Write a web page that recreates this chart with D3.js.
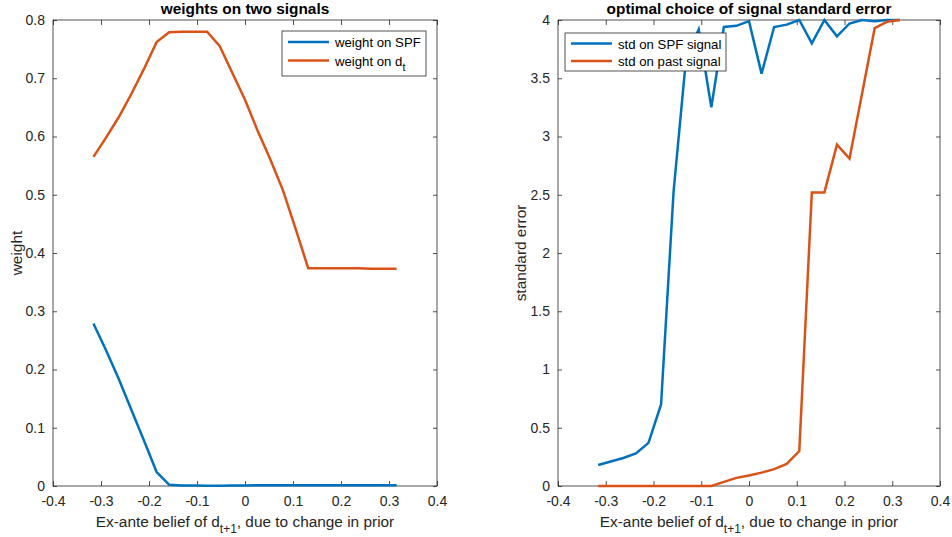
<!DOCTYPE html>
<html>
<head>
<meta charset="utf-8">
<script src="https://cdn.jsdelivr.net/npm/d3@7"></script>
<style>
  html, body { margin: 0; padding: 0; background: #fff; }
  svg { display: block; font-family: "Liberation Sans", Arial, Helvetica, sans-serif; }
</style>
</head>
<body>
<svg id="chart" width="952" height="537"></svg>
<script>
// ---------------- data ----------------
const xValues = [-0.3158, -0.2895, -0.2632, -0.2368, -0.2105, -0.1842, -0.1579, -0.1316, -0.1053, -0.0789, -0.0526, -0.0263, 0, 0.0263, 0.0526, 0.0789, 0.1053, 0.1316, 0.1579, 0.1842, 0.2105, 0.2368, 0.2632, 0.2895, 0.3158];

const weightSPF = [0.279, 0.233, 0.184, 0.131, 0.078, 0.024, 0.002, 0.001, 0.001, 0.0005, 0.0005, 0.0008, 0.001, 0.0012, 0.0012, 0.0012, 0.0013, 0.0013, 0.0013, 0.0013, 0.0013, 0.0013, 0.0013, 0.0013, 0.0013];
const weightD = [0.565, 0.598, 0.633, 0.673, 0.716, 0.762, 0.779, 0.780, 0.780, 0.780, 0.755, 0.709, 0.663, 0.610, 0.561, 0.508, 0.442, 0.374, 0.374, 0.374, 0.374, 0.374, 0.373, 0.373, 0.373];

const stdSPF = [0.18, 0.21, 0.24, 0.28, 0.37, 0.70, 2.53, 3.68, 3.92, 3.25, 3.94, 3.95, 3.99, 3.54, 3.94, 3.96, 4.0, 3.80, 4.0, 3.86, 3.97, 4.0, 3.99, 4.0, 4.0];
const stdPast = [0, 0, 0, 0, 0, 0, 0, 0, 0, 0, 0.035, 0.07, 0.09, 0.115, 0.145, 0.19, 0.30, 2.52, 2.52, 2.93, 2.81, 3.37, 3.93, 3.985, 4.0];

const xTicks = [-0.4, -0.3, -0.2, -0.1, 0, 0.1, 0.2, 0.3, 0.4];
const xTickLabels = ["-0.4", "-0.3", "-0.2", "-0.1", "0", "0.1", "0.2", "0.3", "0.4"];
const yTicksLeft = [0, 0.1, 0.2, 0.3, 0.4, 0.5, 0.6, 0.7, 0.8];
const yTickLabelsLeft = ["0", "0.1", "0.2", "0.3", "0.4", "0.5", "0.6", "0.7", "0.8"];
const yTicksRight = [0, 0.5, 1, 1.5, 2, 2.5, 3, 3.5, 4];
const yTickLabelsRight = ["0", "0.5", "1", "1.5", "2", "2.5", "3", "3.5", "4"];

const BLUE = "#0072BD";
const RED = "#D95319";
const AX = "#262626";
const FONT = '"Liberation Sans", Arial, Helvetica, sans-serif';

const svg = d3.select("#chart");

function panel(opts) {
  const { x0, x1, y0, y1, yDomain, yTicks, yLabels, title, ylabel, ylabelX, series, legend } = opts;
  const x = d3.scaleLinear().domain([-0.4, 0.4]).range([x0, x1]);
  const y = d3.scaleLinear().domain(yDomain).range([y1, y0]);
  const g = svg.append("g");

  g.append("rect").attr("x", x0).attr("y", y0).attr("width", x1 - x0).attr("height", y1 - y0)
    .attr("fill", "none").attr("stroke", AX).attr("stroke-width", 0.8);

  const fmtX = (d) => xTickLabels[xTicks.indexOf(d)];
  const fmtY = (d) => yLabels[yTicks.indexOf(d)];

  const bottom = g.append("g").attr("transform", `translate(0,${y1})`)
    .call(d3.axisBottom(x).tickValues(xTicks).tickFormat(fmtX).tickSizeInner(-5).tickSizeOuter(0).tickPadding(10));
  const top = g.append("g").attr("transform", `translate(0,${y0})`)
    .call(d3.axisTop(x).tickValues(xTicks).tickFormat("").tickSizeInner(-5).tickSizeOuter(0));
  const left = g.append("g").attr("transform", `translate(${x0},0)`)
    .call(d3.axisLeft(y).tickValues(yTicks).tickFormat(fmtY).tickSizeInner(-4).tickSizeOuter(0).tickPadding(8));
  const right = g.append("g").attr("transform", `translate(${x1},0)`)
    .call(d3.axisRight(y).tickValues(yTicks).tickFormat("").tickSizeInner(-4).tickSizeOuter(0));

  [bottom, top, left, right].forEach(a => {
    a.select(".domain").remove();
    a.selectAll(".tick line").attr("stroke", AX).attr("stroke-width", 0.8);
    a.selectAll("text").attr("fill", AX).style("font-size", "14px").style("font-family", FONT);
  });

  g.append("text").attr("x", (x0 + x1) / 2).attr("y", 14).attr("text-anchor", "middle")
    .style("font-size", "15.4px").style("font-weight", "bold").attr("fill", "#000").text(title);

  const xl = g.append("text").attr("x", (x0 + x1) / 2).attr("y", 527).attr("text-anchor", "middle")
    .style("font-size", "15.4px").attr("fill", AX);
  xl.append("tspan").text("Ex-ante belief of d");
  xl.append("tspan").attr("dy", 6).style("font-size", "12px").text("t+1");
  xl.append("tspan").attr("dy", -6).text(", due to change in prior");

  g.append("text").attr("transform", `translate(${ylabelX},${(y0 + y1) / 2}) rotate(-90)`)
    .attr("text-anchor", "middle").style("font-size", "15.4px").attr("fill", AX).text(ylabel);

  const clipId = "clip" + Math.round(x0);
  svg.append("clipPath").attr("id", clipId).append("rect")
    .attr("x", x0 - 2).attr("y", y0 - 2).attr("width", x1 - x0 + 4).attr("height", y1 - y0 + 4);
  series.forEach(s => {
    const line = d3.line().x((d, i) => x(xValues[i])).y(d => y(d));
    g.append("path").datum(s.values).attr("d", line).attr("fill", "none")
      .attr("stroke", s.color).attr("stroke-width", 2.5).attr("stroke-linejoin", "miter")
      .attr("clip-path", `url(#${clipId})`);
  });

  const lg = g.append("g");
  lg.append("rect").attr("x", legend.x).attr("y", legend.y).attr("width", legend.w).attr("height", legend.h)
    .attr("fill", "#fff").attr("stroke", AX).attr("stroke-width", 0.8);
  series.forEach((s, i) => {
    const ry = legend.y + legend.r0 + i * legend.gap;
    lg.append("line").attr("x1", legend.x + 6).attr("x2", legend.x + 47)
      .attr("y1", ry).attr("y2", ry).attr("stroke", s.color).attr("stroke-width", 2.5);
    const t = lg.append("text").attr("x", legend.x + 53).attr("y", ry + 5)
      .style("font-size", "13.2px").attr("fill", "#000");
    t.append("tspan").text(s.label);
    if (s.sub) t.append("tspan").attr("dy", 5).style("font-size", "10.5px").text(s.sub);
  });
}

panel({
  x0: 53, x1: 437, y0: 20, y1: 486,
  yDomain: [0, 0.8], yTicks: yTicksLeft, yLabels: yTickLabelsLeft,
  title: "weights on two signals", ylabel: "weight", ylabelX: 22,
  series: [
    { values: weightSPF, color: BLUE, label: "weight on SPF" },
    { values: weightD, color: RED, label: "weight on d", sub: "t" }
  ],
  legend: { x: 282, y: 31, w: 144, h: 45, r0: 11, gap: 18.5 }
});

panel({
  x0: 558, x1: 940, y0: 20, y1: 486,
  yDomain: [0, 4], yTicks: yTicksRight, yLabels: yTickLabelsRight,
  title: "optimal choice of signal standard error", ylabel: "standard error", ylabelX: 526,
  series: [
    { values: stdSPF, color: BLUE, label: "std on SPF signal" },
    { values: stdPast, color: RED, label: "std on past signal" }
  ],
  legend: { x: 565, y: 33, w: 161, h: 38, r0: 10.5, gap: 17.5 }
});
</script>
</body>
</html>
